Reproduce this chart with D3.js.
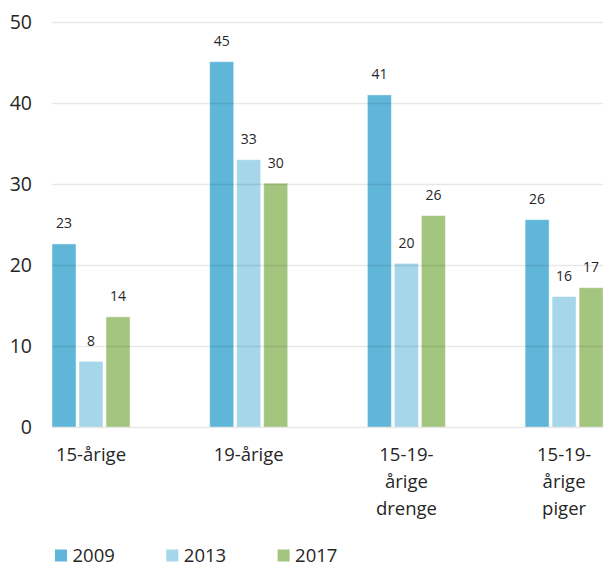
<!DOCTYPE html>
<html>
<head>
<meta charset="utf-8">
<script src="https://cdn.jsdelivr.net/npm/d3@7"></script>
<style>
  html, body { margin: 0; padding: 0; background: #fff; }
  svg { display: block; }
  text { font-family: "Open Sans", sans-serif; fill: #262626; }
</style>
</head>
<body>
<svg id="chart" width="603" height="565"></svg>
<script>
// ---- data ----
const categories = ["15-årige", "19-årige", "15-19-årige drenge", "15-19-årige piger"];
const categoryLines = [["15-årige"], ["19-årige"], ["15-19-", "årige", "drenge"], ["15-19-", "årige", "piger"]];
const years = ["2009", "2013", "2017"];
const values2009 = [22.6, 45.1, 41.0, 25.6];
const values2013 = [8.1, 33.0, 20.2, 16.1];
const values2017 = [13.6, 30.1, 26.1, 17.2];
const yTicks = [0, 10, 20, 30, 40, 50];
const colors = ["#5fb6d9", "#a5d6e9", "#a3c57e"];

const seriesValues = [values2009, values2013, values2017];
const data = categories.map((c, i) => ({
  cat: c,
  vals: years.map((y, j) => ({ year: y, value: seriesValues[j][i], color: colors[j] }))
}));

const svg = d3.select("#chart");

const y = d3.scaleLinear().domain([0, 50]).range([427, 22]);
const x0 = d3.scaleBand().domain(categories).range([12.15, 642.95])
  .paddingInner(0.5054).paddingOuter(0.2527);
const x1 = d3.scaleBand().domain(years).range([0, x0.bandwidth()]).paddingInner(0.111);

// y axis tick labels
const yAxis = d3.axisLeft(y).tickValues(yTicks).tickSize(0).tickPadding(0);
const yg = svg.append("g").attr("transform", "translate(32,0)").call(yAxis);
yg.select(".domain").remove();
yg.selectAll("text").style("font-size", "19.5px").attr("fill", "#262626")
  .style("font-family", "'Open Sans', sans-serif").attr("dy", "0.35em");

// bars
const groups = svg.append("g").selectAll("g").data(data).join("g")
  .attr("transform", d => `translate(${x0(d.cat)},0)`);

groups.selectAll("rect").data(d => d.vals).join("rect")
  .attr("x", d => x1(d.year))
  .attr("y", d => y(d.value))
  .attr("width", x1.bandwidth())
  .attr("height", d => y(0) - y(d.value))
  .attr("fill", d => d.color)
  .attr("stroke", "#ffffff")
  .attr("stroke-opacity", 0.45)
  .attr("stroke-width", 1);

// gridlines on top (semi-transparent)
const grid = d3.axisLeft(y).tickValues(yTicks).tickSize(-(603 - 52)).tickFormat("");
const gg = svg.append("g").attr("transform", "translate(52,0)").call(grid);
gg.select(".domain").remove();
gg.selectAll("line").attr("stroke", "#000").attr("stroke-opacity", 0.09).attr("stroke-width", 1.5);

// value labels
groups.selectAll("text.val").data(d => d.vals).join("text")
  .attr("class", "val")
  .attr("x", d => x1(d.year) + x1.bandwidth() / 2)
  .attr("y", d => y(d.value) - 15.5)
  .attr("text-anchor", "middle")
  .style("font-size", "14px")
  .text(d => d3.format(".0f")(d.value));

// category labels
const catG = svg.append("g").selectAll("text").data(categories).join("text")
  .attr("text-anchor", "middle")
  .attr("x", d => x0(d) + x0.bandwidth() / 2)
  .attr("y", 461)
  .style("font-size", "18.5px");
catG.each(function(d, i) {
  d3.select(this).selectAll("tspan").data(categoryLines[i]).join("tspan")
    .attr("x", x0(d) + x0.bandwidth() / 2)
    .attr("dy", (t, k) => k === 0 ? 0 : 27)
    .text(t => t);
});

// legend
const legend = svg.append("g").selectAll("g").data(years).join("g")
  .attr("transform", (d, i) => `translate(${55 + i * 111.3},549.5)`);
legend.append("rect").attr("width", 12).attr("height", 12)
  .attr("fill", (d, i) => colors[i]);
legend.append("text").attr("x", 17.5).attr("y", 12.5)
  .style("font-size", "18.5px").text(d => d);
</script>
</body>
</html>
